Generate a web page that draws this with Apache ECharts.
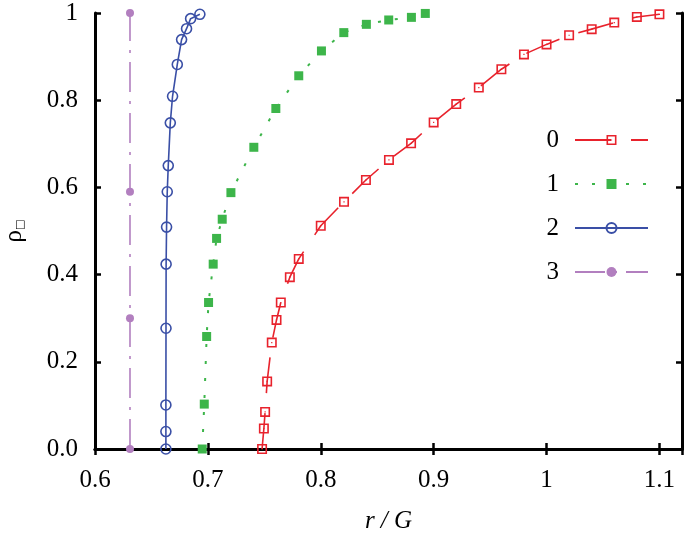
<!DOCTYPE html>
<html><head><meta charset="utf-8">
<script src="https://cdn.jsdelivr.net/npm/echarts@6/dist/echarts.min.js"></script>
<style>html,body{margin:0;padding:0;background:#fff}#c{width:684px;height:535px}</style>
</head><body><div id="c"></div>
<script>
const seriesNames = ['0', '1', '2', '3'];
const s0x = [0.748,0.7496,0.7507,0.7525,0.7566,0.7608,0.7646,0.7726,0.7805,0.80,0.8206,0.84,0.8604,0.88,0.90,0.92,0.94,0.96,0.98,1.0,1.02,1.04,1.06,1.08,1.10];
const s0y = [0.0,0.047,0.085,0.155,0.244,0.296,0.336,0.394,0.436,0.512,0.567,0.617,0.663,0.701,0.749,0.791,0.829,0.871,0.905,0.928,0.949,0.963,0.978,0.991,0.997];
const s1x = [0.695,0.6968,0.6989,0.7006,0.7047,0.7077,0.7127,0.7204,0.7407,0.7602,0.7805,0.8006,0.8204,0.8404,0.8602,0.8803,0.8926];
const s1y = [0.0,0.103,0.258,0.336,0.424,0.483,0.527,0.588,0.692,0.781,0.856,0.913,0.955,0.974,0.984,0.990,0.999];
const s2x = [0.6628,0.6628,0.6628,0.6629,0.663,0.6634,0.664,0.6649,0.6667,0.6687,0.6729,0.6767,0.6811,0.6847,0.6929];
const s2y = [0.0,0.040,0.101,0.277,0.424,0.509,0.590,0.650,0.748,0.809,0.882,0.939,0.964,0.987,0.997];
const s3x = [0.631,0.631,0.631,0.631];
const s3y = [0.0,0.30,0.59,1.0];
const xTicks = [0.6,0.7,0.8,0.9,1.0,1.1];
const yTicks = [0.0,0.2,0.4,0.6,0.8,1.0];

const zip = (a,b) => a.map((v,i)=>[v,b[i]]);
const FONT = 'Liberation Serif';
const RED='#e8222c', GREEN='#3db54a', BLUE='#3a4fa6', PURPLE='#b27fbf';
const sqPath = 'path://M0,0H10V10H0Z M1.6,1.6V8.4H8.4V1.6Z M4.4,4.4H5.6V5.6H4.4Z';

const xLabel = v => xTicks.some(t=>Math.abs(t-v)<1e-6) ? String(Math.round(v*10)/10) : '';
const yLabel = v => {
  if (!yTicks.some(t=>Math.abs(t-v)<1e-6)) return '';
  if (Math.abs(v)<1e-9) return '0.0';
  if (Math.abs(v-1)<1e-9) return '1';
  return v.toFixed(1);
};

const axisCommon = {
  axisLine:{show:true,lineStyle:{color:'#000',width:3}},
  axisTick:{show:true,inside:true,length:6,lineStyle:{color:'#000',width:2.5}},
  splitLine:{show:false}
};

const chart = echarts.init(document.getElementById('c'), null, {renderer:'canvas'});
chart.setOption({
  animation:false,
  backgroundColor:'#fff',
  grid:{left:95,right:2,top:13,bottom:86,containLabel:false,outerBoundsMode:'none'},
  xAxis:[
    Object.assign({type:'value',min:0.6,max:1.12,interval:0.1,position:'bottom',
      name:'r / G',nameLocation:'middle',nameGap:60,
      nameTextStyle:{fontFamily:FONT,fontSize:25,fontStyle:'italic',color:'#000'},
      axisLabel:{formatter:xLabel,fontFamily:FONT,fontSize:25,color:'#000',margin:19,showMaxLabel:true}
    },axisCommon),
    Object.assign({type:'value',min:0.6,max:1.12,interval:0.1,position:'top',axisLabel:{show:false}},axisCommon)
  ],
  yAxis:[
    Object.assign({type:'value',min:0,max:1,interval:0.2,position:'left',
      name:'{a|ρ}{b|□}',nameLocation:'middle',nameGap:68,nameRotate:90,
      nameTextStyle:{rich:{a:{fontFamily:FONT,fontSize:25,color:'#000'},b:{fontFamily:'DejaVu Sans',fontSize:11,color:'#000',padding:[12,0,0,0]}}},
      axisLabel:{formatter:yLabel,fontFamily:FONT,fontSize:25,color:'#000',margin:17}
    },axisCommon),
    Object.assign({type:'value',min:0,max:1,interval:0.2,position:'right',axisLabel:{show:false}},axisCommon)
  ],
  legend:{
    orient:'vertical',right:30,top:122,align:'right',
    itemWidth:73,itemHeight:12.5,itemGap:18,
    textStyle:{fontFamily:FONT,fontSize:25,color:'#000',lineHeight:26,padding:[0,11,0,0]},
    data:seriesNames
  },
  series:[
    {name:seriesNames[0],type:'line',data:zip(s0x,s0y),clip:false,z:4,
     symbol:sqPath,symbolSize:10,itemStyle:{color:RED},
     lineStyle:{color:RED,width:1.6,type:[36,20]}},
    {name:seriesNames[1],type:'line',data:zip(s1x,s1y),clip:false,z:3,
     symbol:'rect',symbolSize:9,itemStyle:{color:GREEN},
     lineStyle:{color:GREEN,width:2,type:[3,14]}},
    {name:seriesNames[2],type:'line',data:zip(s2x,s2y),clip:false,z:2,
     symbol:'circle',symbolSize:10,itemStyle:{color:'rgba(255,255,255,0)',borderColor:BLUE,borderWidth:1.6},
     lineStyle:{color:BLUE,width:1.6,type:'solid'}},
    {name:seriesNames[3],type:'line',data:zip(s3x,s3y),clip:false,z:1,
     symbol:'circle',symbolSize:8,itemStyle:{color:PURPLE},
     lineStyle:{color:PURPLE,width:1.6,type:[30,9,3,9]}}
  ]
});
</script></body></html>
